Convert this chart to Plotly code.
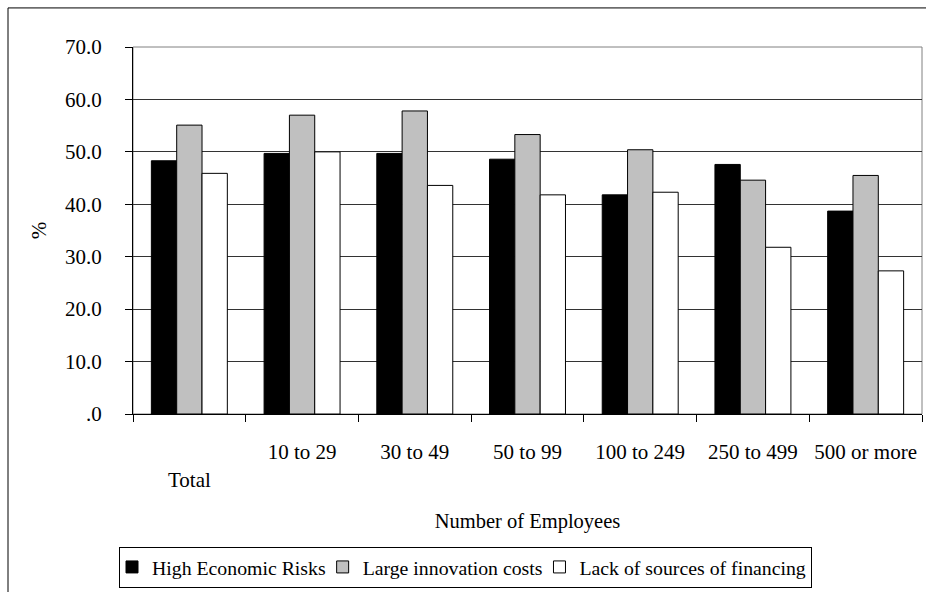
import plotly.graph_objects as go

# Share of enterprises citing each obstacle to innovation, by company size
categories = ["Total", "10 to 29", "30 to 49", "50 to 99", "100 to 249", "250 to 499", "500 or more"]
category_labels = ["<br>Total", "10 to 29", "30 to 49", "50 to 99", "100 to 249", "250 to 499", "500 or more"]

series_names = ["High Economic Risks", "Large innovation costs", "Lack of sources of financing"]
high_economic_risks = [48.3, 49.7, 49.7, 48.6, 41.8, 47.6, 38.7]
large_innovation_costs = [55.1, 57.0, 57.8, 53.3, 50.4, 44.6, 45.5]
lack_of_financing = [45.9, 50.0, 43.6, 41.8, 42.3, 31.8, 27.3]

y_tick_values = [0, 10, 20, 30, 40, 50, 60, 70]
y_tick_labels = [".0", "10.0", "20.0", "30.0", "40.0", "50.0", "60.0", "70.0"]

FONT = "Liberation Serif"
W, H = 926, 592
L, R, T, B = 133, 4, 47, 174
plot_w = W - L - R
plot_h = H - T - B

fig = go.Figure()
for name, vals, color in zip(
    series_names,
    [high_economic_risks, large_innovation_costs, lack_of_financing],
    ["#000000", "#C0C0C0", "#FFFFFF"],
):
    fig.add_trace(go.Bar(
        name=name,
        x=categories,
        y=vals,
        marker=dict(color=color, line=dict(color="#000000", width=1)),
    ))

# plot-area border (grey) and the outer chart frame
fig.add_shape(type="rect", xref="paper", yref="paper", x0=0, x1=1, y0=0, y1=1,
              line=dict(color="#808080", width=1), layer="below")
fig.add_shape(type="rect", xref="paper", yref="paper",
              x0=(8 - L) / plot_w, x1=1.2,
              y0=-1.0, y1=1 + (T - 7.5) / plot_h,
              line=dict(color="#000000", width=1), layer="below")

fig.update_layout(
    width=W, height=H,
    margin=dict(l=L, r=R, t=T, b=B, pad=0),
    paper_bgcolor="white", plot_bgcolor="white",
    font=dict(family=FONT, size=21, color="#000000"),
    barmode="group",
    bargap=0.326,
    bargroupgap=0,
    showlegend=True,
    legend=dict(
        orientation="h",
        x=(119 - L) / plot_w, xanchor="left",
        y=(418 - 552) / plot_h, yanchor="top",
        bordercolor="#000000", borderwidth=1,
        bgcolor="white",
        font=dict(family=FONT, size=19.8),
        itemwidth=30,
        indentation=-8,
        traceorder="normal",
    ),
    xaxis=dict(
        type="category",
        categoryorder="array", categoryarray=categories,
        tickmode="array", tickvals=categories, ticktext=category_labels,
        tickson="boundaries",
        ticks="outside", ticklen=7, tickcolor="#000000", tickwidth=1,
        ticklabelstandoff=19,
        showline=True, linecolor="#000000", linewidth=1,
        showgrid=False, zeroline=False,
        title=dict(text="Number of Employees", standoff=23,
                   font=dict(family=FONT, size=20.5)),
    ),
    yaxis=dict(
        range=[0, 70],
        tickmode="array", tickvals=y_tick_values, ticktext=y_tick_labels,
        ticks="outside", ticklen=7, tickcolor="#000000", tickwidth=1,
        ticklabelstandoff=19,
        showline=True, linecolor="#000000", linewidth=1,
        showgrid=True, gridcolor="#333333", gridwidth=1,
        zeroline=False,
        title=dict(text="%", standoff=12, font=dict(family=FONT, size=21)),
    ),
)

fig.write_html("out.html")
